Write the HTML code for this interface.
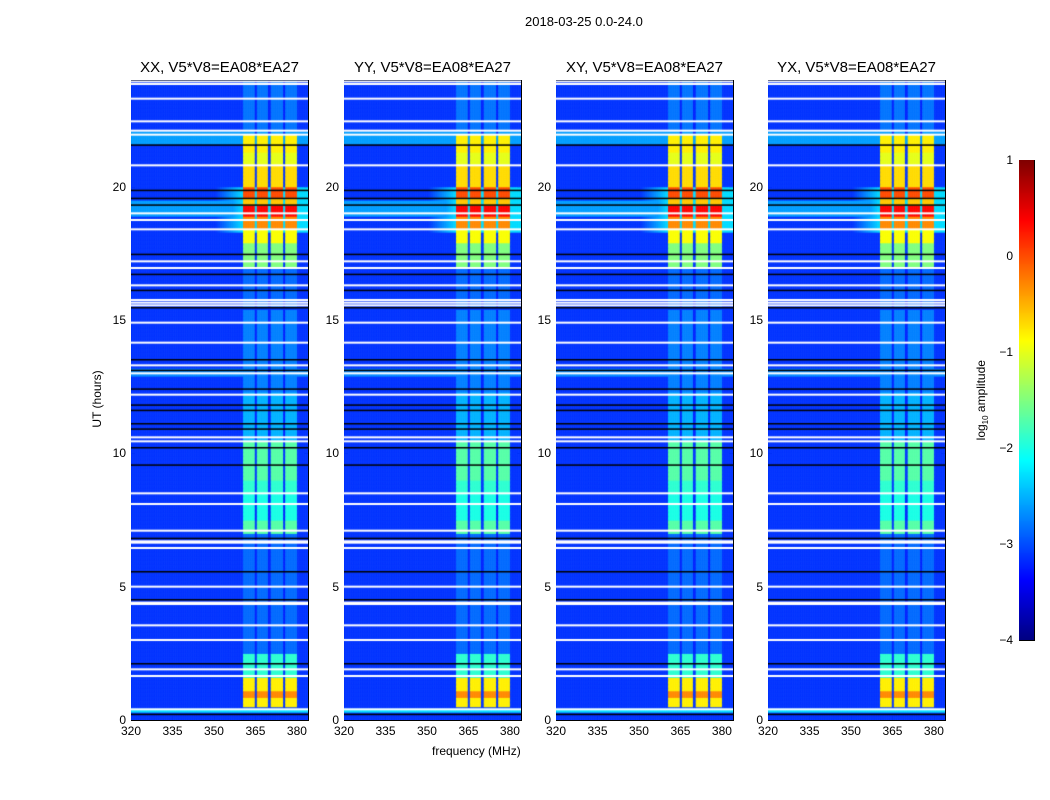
<!DOCTYPE html>
<html><head><meta charset="utf-8">
<style>
body{margin:0;background:#fff;font-family:"Liberation Sans","DejaVu Sans",sans-serif;}
#root{position:relative;width:1050px;height:800px;overflow:hidden;background:#fff;}
.t{position:absolute;color:#000;white-space:nowrap;}
canvas{position:absolute;}
svg{position:absolute;left:0;top:0;}
</style></head>
<body>
<div id="root">
<div class="t" style="left:525px;top:14px;font-size:13px;">2018-03-25 0.0-24.0</div>
<div class="t" style="left:432px;top:744px;font-size:12px;">frequency (MHz)</div>
<div class="t" style="left:62px;top:392px;font-size:12px;transform:rotate(-90deg);transform-origin:center;width:70px;text-align:center;">UT (hours)</div>
<div class="t" style="left:932px;top:392px;font-size:12px;transform:rotate(-90deg);width:100px;text-align:center;">log<sub style="font-size:8px">10</sub> amplitude</div>
<svg id="ov" width="1050" height="800"></svg>
</div>
<script>
// ---- data ----
const panelNames = ["XX, V5*V8=EA08*EA27","YY, V5*V8=EA08*EA27","XY, V5*V8=EA08*EA27","YX, V5*V8=EA08*EA27"];
const panelLeft = [131,344,556,768];
const xTicks = [320,335,350,365,380];
const yTicks = [0,5,10,15,20];
const cbTicks = [1,0,-1,-2,-3,-4];
const bands = [[360.5,364.8],[365.6,369.6],[370.4,374.9],[375.7,380.0]];
const baseLevel = -3.12;
const bandSegments = [[0.5,0.85,-0.8],[0.85,1.1,-0.3],[1.1,1.6,-0.8],[1.6,2.5,-1.9],[2.5,7.0,-2.85],[7.0,7.5,-1.7],[7.5,8.5,-2.0],[8.5,9.0,-1.9],[9.0,10.5,-1.7],[10.5,12.3,-2.5],[12.3,15.4,-2.75],[15.5,17.0,-2.85],[17.0,17.9,-1.5],[17.9,18.4,-0.9],[18.4,18.9,-0.3],[18.9,19.3,0.35],[19.3,19.6,-0.6],[19.6,20.0,0.0],[20.0,20.8,-0.7],[20.8,21.3,-1.0],[21.3,22.0,-0.8],[22.0,24.0,-2.8]];
const broadRows = [[21.6,22.1,-2.6],[0.3,0.45,-2.3],[12.9,13.2,-2.7],[18.9,19.5,-2.6]];
const hazeRows = [[18.3,20.0,-2.3]];
const whiteFlags = [0.4,1.65,1.9,3.0,3.55,4.35,4.4,5.0,6.45,6.65,6.7,7.1,8.1,8.5,10.45,10.6,12.2,13.0,13.3,14.15,14.9,15.55,15.65,15.75,16.3,16.95,17.2,18.4,18.75,19.0,20.8,21.95,22.1,22.45,23.3,23.85,23.95];
const blackFlags = [0.2,2.1,4.5,5.55,6.8,9.55,10.2,10.9,11.1,11.6,11.8,12.4,13.1,13.5,15.45,16.1,16.7,17.45,19.3,19.55,19.85,21.55,24.0];
// ---- geometry ----
const pw=177, plotTop=80, plotBot=720, fmin=320, fmax=384, hmax=24;
function xScale(f,l){return l+(f-fmin)/(fmax-fmin)*pw;}
function yScale(h){return plotBot-h/hmax*(plotBot-plotTop);}
function jet(v){let t=(v+4)/5;t=Math.max(0,Math.min(1,t));const c=x=>Math.round(255*Math.max(0,Math.min(1,x)));return [c(1.5-Math.abs(4*t-3)),c(1.5-Math.abs(4*t-2)),c(1.5-Math.abs(4*t-1))];}
const bandLo=bands[0][0], bandHi=bands[bands.length-1][1];
function valueAt(f,h){
  let v=baseLevel;
  for(const r of broadRows) if(h>=r[0]&&h<r[1]) v=Math.max(v,r[2]);
  for(const r of hazeRows) if(h>=r[0]&&h<r[1]&&f>bandLo-10){const w=(f-(bandLo-10))/10;v=Math.max(v,baseLevel+(r[2]-baseLevel)*Math.min(1,w));}
  let inBand=false; for(const b of bands) if(f>=b[0]&&f<b[1]) inBand=true;
  if(f>=bandLo&&f<bandHi){
    for(const s of bandSegments) if(h>=s[0]&&h<s[1]){ v=inBand? Math.max(v,s[2]) : Math.max(baseLevel-0.1, Math.min(s[2]-1.2,v)); }
  }
  return v;
}
const rootEl=document.getElementById('root');
const ov=document.getElementById('ov');
const NS='http://www.w3.org/2000/svg';
function line(x1,y1,x2,y2,name){const e=document.createElementNS(NS,'line');e.setAttribute('x1',x1);e.setAttribute('y1',y1);e.setAttribute('x2',x2);e.setAttribute('y2',y2);e.setAttribute('stroke','#000');e.setAttribute('stroke-width','1');


ov.appendChild(e);}
function label(x,y,txt,anchor,name){const e=document.createElement('div');e.className='t';e.textContent=txt;e.style.fontSize='12px';e.style.top=(y-7)+'px';
if(anchor==='c'){e.style.left=(x-30)+'px';e.style.width='60px';e.style.textAlign='center';}else if(anchor==='r'){e.style.left=(x-60)+'px';e.style.width='60px';e.style.textAlign='right';}else{e.style.left=x+'px';}


rootEl.appendChild(e);}
panelNames.forEach((nm,pi)=>{
  const l=panelLeft[pi];
  const cv=document.createElement('canvas');cv.width=pw;cv.height=plotBot-plotTop;cv.style.left=l+'px';cv.style.top=plotTop+'px';
  
  
  rootEl.appendChild(cv);
  const ctx=cv.getContext('2d');
  const df=0.25, dh=0.05;
  for(let h=0;h<hmax;h+=dh){for(let f=fmin;f<fmax;f+=df){const c=jet(valueAt(f+df/2,h+dh/2));ctx.fillStyle='rgb('+c.join(',')+')';
    const x0=xScale(f,0),x1=xScale(f+df,0),y0=yScale(h+dh)-plotTop,y1=yScale(h)-plotTop;ctx.fillRect(x0,y0,x1-x0+0.5,y1-y0+0.5);}}
  ctx.fillStyle='#fff';for(const h of whiteFlags){ctx.fillRect(0,yScale(h)-plotTop-1,pw,2);}
  ctx.fillStyle='#000';for(const h of blackFlags){ctx.fillRect(0,yScale(h)-plotTop-1,pw,1.5);}
  const r=document.createElementNS(NS,'rect');r.setAttribute('x',l+0.5);r.setAttribute('y',plotTop+0.5);r.setAttribute('width',pw);r.setAttribute('height',plotBot-plotTop);r.setAttribute('fill','none');r.setAttribute('stroke','#000');
  
  
  ov.appendChild(r);
  xTicks.forEach(t=>{const x=Math.round(xScale(t,l))+0.5;line(x,plotBot,x,plotBot-4,'x-tick');line(x,plotTop,x,plotTop+4,'x-tick');label(xScale(t,l),plotBot+11,String(t),'c','x-tick-label');});
  yTicks.forEach(t=>{const y=Math.round(yScale(t))+0.5;line(l,y,l+4,y,'y-tick');line(l+pw,y,l+pw-4,y,'y-tick');label(l-5,yScale(t),String(t),'r','y-tick-label');});
  const tt=document.createElement('div');tt.className='t';tt.textContent=nm;tt.style.fontSize='15px';tt.style.left=(l-20)+'px';tt.style.width=(pw+40)+'px';tt.style.textAlign='center';tt.style.top='59px';
  
  
  rootEl.appendChild(tt);
});
const cb=document.createElement('canvas');cb.width=15;cb.height=480;cb.style.left='1019px';cb.style.top='160px';


rootEl.appendChild(cb);
const cctx=cb.getContext('2d');
for(let y=0;y<480;y++){const v=1-y/480*5;cctx.fillStyle='rgb('+jet(v).join(',')+')';cctx.fillRect(0,y,15,1);}
const cr=document.createElementNS(NS,'rect');cr.setAttribute('x',1019.5);cr.setAttribute('y',160.5);cr.setAttribute('width',15);cr.setAttribute('height',480);cr.setAttribute('fill','none');cr.setAttribute('stroke','#000');


ov.appendChild(cr);
cbTicks.forEach(t=>{const y=Math.round(160+(1-t)/5*480)+0.5;line(1019,y,1023,y,'colorbar-tick');line(1034,y,1030,y,'colorbar-tick');label(1013,160+(1-t)/5*480,String(t).replace('-','\u2212'),'r','colorbar-tick-label');});
</script>
</body></html>
